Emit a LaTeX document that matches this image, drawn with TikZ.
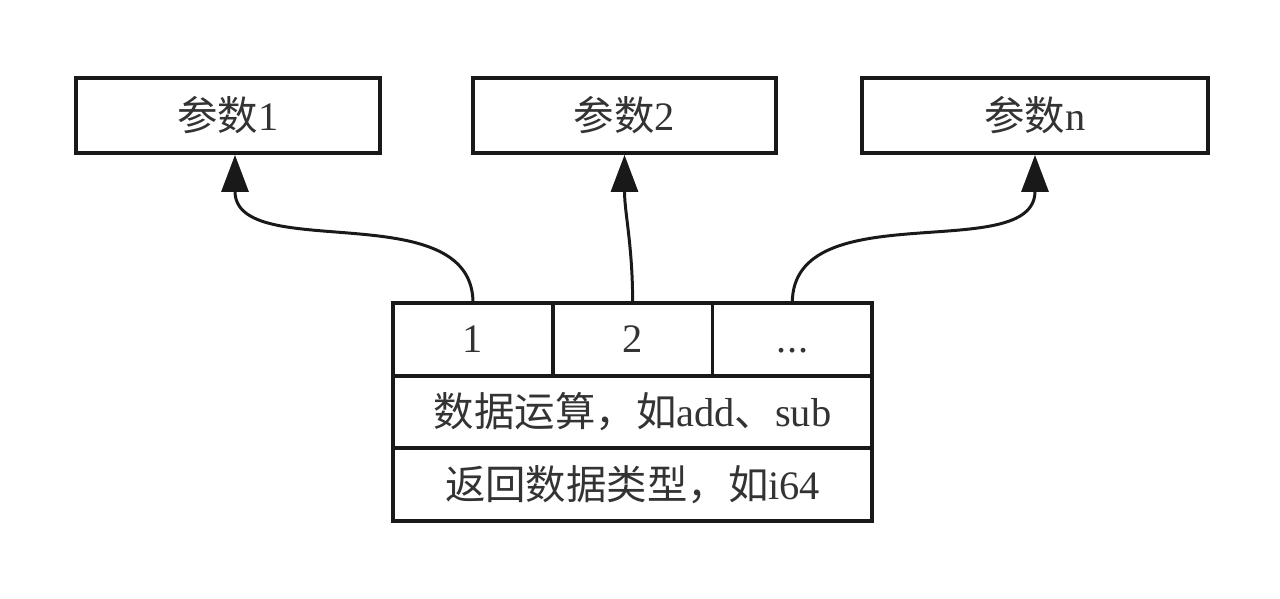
\documentclass[tikz,border=0pt]{standalone}
\usepackage{fontspec}
\setmainfont{Liberation Serif}
\newfontfamily\cjk{Noto Sans CJK SC}
\usetikzlibrary{positioning,arrows.meta}

\begin{document}
\begin{tikzpicture}
[font=\fontsize{23}{27}\selectfont, draw=black!90, line width=2.2pt,
param/.style={rectangle, draw, inner sep=0pt, minimum height=1.5cm, text=black!80},
cell/.style={rectangle, draw, inner sep=0pt, outer sep=0pt, minimum width=3.193cm, minimum height=1.46cm, text=black!80},
row/.style={rectangle, draw, inner sep=0pt, outer sep=0pt, minimum width=9.58cm, minimum height=1.44cm, text=black!80},
link/.style={-{Triangle[length=0.74cm, width=0.54cm]}, line width=1.7pt, draw=black!90}]

\useasboundingbox (0,0) rectangle (25.6,11.98);

\node[param, minimum width=6.08cm] (p1) at (4.56,9.67) {{\cjk 参数}1};
\node[param, minimum width=6.06cm] (p2) at (12.49,9.67) {{\cjk 参数}2};
\node[param, minimum width=6.92cm] (pn) at (20.70,9.67) {{\cjk 参数}n};

\node[cell] (c1) at (9.46,5.19) {1};
\node[cell, right=0pt of c1] (c2) {2};
\node[cell, right=0pt of c2] (c3) {\vphantom{1}.\kern0.5pt.\kern0.5pt.};
\node[row, below=0pt of c2] (op) {{\cjk 数据运算，如}add{\cjk 、}sub};
\node[row, below=0pt of op, minimum height=1.46cm] (ret) {{\cjk 返回数据类型，如}i64};

\draw[link] (c1.north) to[out=90, in=-90] (p1.south -| 4.70,0);
\draw[link] (c2.north) to[out=90, in=-90] (p2.south);
\draw[link] (c3.north) to[out=90, in=-90] (pn.south);

\end{tikzpicture}
\end{document}
